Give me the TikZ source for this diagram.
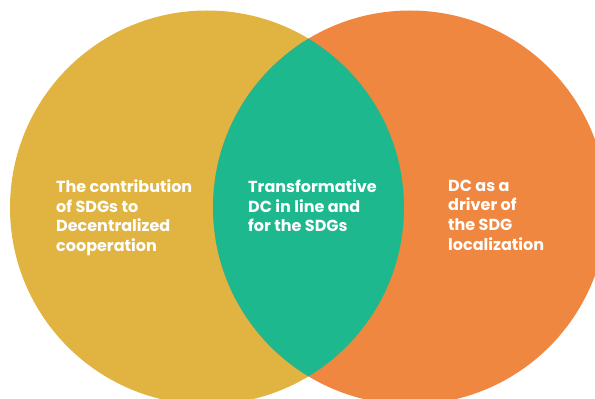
\documentclass[tikz,border=0pt]{standalone}
\usepackage{fontspec}
\setmainfont{Poppins}
\definecolor{cyellow}{HTML}{E1B441}
\definecolor{corange}{HTML}{EF8741}
\definecolor{cgreen}{HTML}{1EB88F}
\begin{document}
\begin{tikzpicture}[x=1pt,y=1pt,
  lbl/.style={anchor=north west,inner sep=0pt,align=left,text=white,
    font=\fontsize{16}{19.7}\selectfont\bfseries}]
\useasboundingbox (0,0) rectangle (595,399);
\clip (0,0) rectangle (595,399);
\fill[cyellow] (207,191.5) circle (197);
\fill[corange] (410,191.5) circle (197);
\begin{scope}
  \clip (207,191.5) circle (197);
  \fill[cgreen] (410,191.5) circle (197);
\end{scope}
\node[lbl] (left) at (56,219.5) {The contribution\\of SDGs to\\Decentralized\\cooperation};
\node[lbl] (mid) at (248,219.5) {Transformative\\DC in line and\\for the SDGs};
\node[lbl] (right) at (448,219.5) {DC as a\\driver of\\the SDG\\localization};
\end{tikzpicture}
\end{document}
